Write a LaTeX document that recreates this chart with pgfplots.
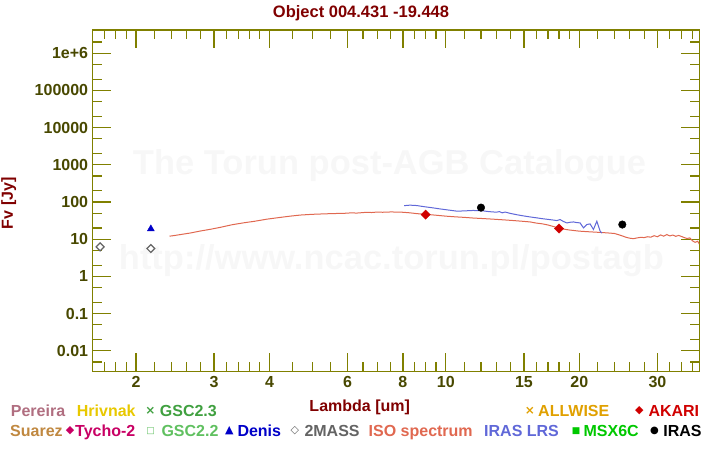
\documentclass[border=0pt]{standalone}
\usepackage{pgfplots}
\pgfplotsset{compat=1.18}
\usepackage{fontspec}
\setmainfont{Liberation Sans}
\newfontfamily\sym{DejaVu Sans}
\definecolor{axc}{RGB}{128,128,0}
\definecolor{tickc}{RGB}{72,72,0}
\definecolor{titc}{RGB}{128,0,0}
\definecolor{pereira}{RGB}{176,110,128}
\definecolor{hrivnak}{RGB}{232,200,0}
\definecolor{gsc23}{RGB}{64,160,64}
\definecolor{suarez}{RGB}{192,136,64}
\definecolor{tycho}{RGB}{200,0,100}
\definecolor{gsc22}{RGB}{96,192,96}
\definecolor{denis}{RGB}{0,0,200}
\definecolor{twomass}{RGB}{100,100,100}
\definecolor{iso}{RGB}{224,104,80}
\definecolor{lrs}{RGB}{96,104,216}
\definecolor{msx}{RGB}{0,200,0}
\definecolor{allwise}{RGB}{224,160,0}
\definecolor{akari}{RGB}{208,0,0}
\definecolor{wm}{RGB}{247,247,247}
\newcommand{\lf}{\fontsize{16bp}{18bp}\selectfont\bfseries}
\begin{document}
\begin{tikzpicture}[x=1bp,y=1bp]
\path[use as bounding box] (0,0) rectangle (720,450);
% watermark
\node[anchor=base, inner sep=0pt, text=wm, font=\fontsize{34.5bp}{36bp}\selectfont\bfseries] at (389.5,275) {The Torun post-AGB Catalogue};
\node[anchor=base, inner sep=0pt, text=wm, font=\fontsize{34.5bp}{36bp}\selectfont\bfseries] at (391.4,180) {http://www.ncac.torun.pl/postagb};
\begin{axis}[
  at={(92.7bp,78.7bp)}, anchor=south west,
  scale only axis, width=606.6bp, height=341.3bp,
  xmode=log, ymode=log,
  xmin=1.597, xmax=37.3, ymin=0.0028, ymax=4.2e6,
  axis line style={axc, line width=1.2bp},
  tick style={axc, line width=1.2bp},
  major tick length=18bp, minor tick length=9bp,
  tick align=inside,
  xtick pos=both, ytick pos=both,
  xticklabel pos=lower, yticklabel pos=left,
  xtick={2,3,4,6,8,10,15,20,30},
  xticklabels={2,3,4,6,8,10,15,20,30},
  minor xtick={1.7,1.8,1.9,2.2,2.4,2.6,2.8,3.2,3.4,3.6,3.8,4.5,5,5.5,6.5,7,7.5,8.5,9,9.5,11,12,13,14,16,17,18,19,22,24,26,28,32,34,36},
  ytick={0.01,0.1,1,10,100,1000,10000,100000,1000000},
  yticklabels={0.01,0.1,1,10,100,1000,10000,100000,1e+6},
  minor ytick={0.005,0.02,0.05,0.2,0.5,2,5,20,50,200,500,2000,5000,20000,50000,200000,500000,2000000},
  ticklabel style={font=\lf, text=tickc, inner sep=0pt},
  xticklabel style={anchor=north, yshift=-5.3bp},
  yticklabel style={anchor=east, xshift=-4.4bp},
  /pgf/number format/assume math mode=true,
]
% ISO spectrum
\addplot[iso, line width=1bp, mark=none] table {
2.38 12.0
2.45 12.6
2.55 13.6
2.65 14.6
2.79 16.5
2.95 18.5
3.10 20.8
3.30 24.5
3.50 27.5
3.70 30.2
3.95 34.5
4.20 38.0
4.45 41.5
4.70 44.5
5.00 46.5
5.30 47.8
5.60 48.8
5.90 49.5
6.10 50.8
6.30 50.3
6.60 52.5
6.80 52.0
7.00 53.5
7.20 52.8
7.50 53.8
7.80 53.5
8.00 52.8
8.30 51.0
8.60 48.5
9.00 46.5
9.50 44.0
10.0 41.5
10.5 39.8
11.0 38.5
11.5 37.0
12.0 36.0
12.5 35.0
13.0 34.0
13.5 33.0
14.0 32.0
14.5 31.0
15.0 30.0
15.5 29.0
16.0 27.0
16.5 25.8
17.0 24.0
17.5 21.8
18.0 19.8
18.5 18.5
19.0 17.6
19.5 17.0
20.0 16.4
21.0 15.8
22.0 15.3
23.0 14.8
24.0 14.2
24.5 13.2
25.0 12.2
25.5 11.2
26.0 10.6
26.5 10.3
27.0 10.8
27.5 11.2
28.0 11.0
28.5 11.6
29.0 11.3
29.5 12.4
30.0 11.6
30.5 13.0
31.0 12.0
31.5 13.3
32.0 12.2
32.5 12.9
33.0 11.9
33.5 12.6
34.0 11.8
34.5 11.0
35.0 10.4
35.5 10.8
36.0 9.0
36.5 8.2
37.0 8.8
37.3 7.3
};
% IRAS LRS
\addplot[lrs, line width=1bp, mark=none] table {
8.05 79.6
8.3 82
8.6 80
8.9 75
9.3 70
9.7 65
10.2 60
10.6 56.5
11.0 57.5
11.5 59
12.0 58.5
12.5 55
13.0 53
13.2 55
13.4 51
13.6 53.5
14.0 49
14.5 45
15.0 42
15.5 39.5
16.0 37.5
16.5 35.5
17.0 34
17.5 32.5
17.8 31.6
18.1 33.6
18.4 30
18.74 27.3
19.1 28.5
19.4 29.0
19.7 28
20.08 27.3
20.43 20.1
20.79 24.7
21.15 25.7
21.52 18.2
21.9 30.3
22.28 16.4
22.48 14.7
};
% 2MASS
\addplot[only marks, mark=square, mark size=2.8bp, mark options={rotate=45, draw=twomass, line width=1.2bp}] table {
1.66 6.2
2.16 5.6
};
% Denis
\addplot[only marks, mark=triangle*, mark size=4bp, mark options={fill=denis, draw=denis}] table {
2.16 18.9
};
% AKARI
\addplot[only marks, mark=square*, mark size=3.3bp, mark options={rotate=45, fill=akari, draw=akari}] table {
9.0 45.7
18.0 19.3
};
% IRAS
\addplot[only marks, mark=*, mark size=3.8bp, mark options={fill=black, draw=black}] table {
12.0 70.4
25.0 24.7
};
\end{axis}
% title and labels
\node[anchor=base, inner sep=0pt, text=titc, font=\fontsize{16.5bp}{18bp}\selectfont\bfseries] at (361,432.5) {Object 004.431 -19.448};
\node[anchor=base, inner sep=0pt, text=titc, font=\lf] at (359.7,38.5) {Lambda [um]};
\node[anchor=center, inner sep=0pt, text=titc, font=\lf, rotate=90] at (8.8,246.7) {Fv [Jy]};
% legend row 1
\node[anchor=base west, inner sep=0pt, text=pereira, font=\lf] at (10.7,33.5) {Pereira};
\node[anchor=base west, inner sep=0pt, text=hrivnak, font=\lf] at (76.7,33.5) {Hrivnak};
\node[anchor=center, inner sep=0pt, text=gsc23, font=\fontsize{12bp}{14bp}\selectfont\sym\bfseries] at (150.5,39.3) {×};
\node[anchor=base west, inner sep=0pt, text=gsc23, font=\lf] at (159.7,33.5) {GSC2.3};
\node[anchor=center, inner sep=0pt, text=allwise, font=\fontsize{12bp}{14bp}\selectfont\sym\bfseries] at (529.9,39.3) {×};
\node[anchor=base west, inner sep=0pt, text=allwise, font=\lf] at (538,33.5) {ALLWISE};
\node[anchor=center, inner sep=0pt, text=akari, font=\fontsize{11bp}{14bp}\selectfont\sym] at (639.3,39.3) {◆};
\node[anchor=base west, inner sep=0pt, text=akari, font=\lf] at (648.3,33.5) {AKARI};
% legend row 2
\node[anchor=base west, inner sep=0pt, text=suarez, font=\lf] at (10,13.5) {Suarez};
\node[anchor=center, inner sep=0pt, text=tycho, font=\fontsize{11bp}{14bp}\selectfont\sym] at (70,19.3) {◆};
\node[anchor=base west, inner sep=0pt, text=tycho, font=\lf] at (75,13.5) {Tycho-2};
\node[anchor=center, inner sep=0pt, text=gsc22, font=\fontsize{9bp}{14bp}\selectfont\sym\bfseries] at (150.7,19.3) {□};
\node[anchor=base west, inner sep=0pt, text=gsc22, font=\lf] at (161.3,13.5) {GSC2.2};
\node[anchor=center, inner sep=0pt, text=denis, font=\fontsize{11bp}{14bp}\selectfont\sym] at (229.3,19.3) {▲};
\node[anchor=base west, inner sep=0pt, text=denis, font=\lf] at (237.3,13.5) {Denis};
\node[anchor=center, inner sep=0pt, text=twomass, font=\fontsize{11bp}{14bp}\selectfont\sym\bfseries] at (294.9,19.3) {◇};
\node[anchor=base west, inner sep=0pt, text=twomass, font=\lf] at (304.3,13.5) {2MASS};
\node[anchor=base west, inner sep=0pt, text=iso, font=\lf] at (368.5,13.5) {ISO spectrum};
\node[anchor=base west, inner sep=0pt, text=lrs, font=\lf] at (484,13.5) {IRAS LRS};
\node[anchor=center, inner sep=0pt, text=msx, font=\fontsize{9bp}{14bp}\selectfont\sym] at (576,19.3) {■};
\node[anchor=base west, inner sep=0pt, text=msx, font=\lf] at (583.4,13.5) {MSX6C};
\node[anchor=center, inner sep=0pt, text=black, font=\fontsize{10bp}{14bp}\selectfont\sym] at (654.6,19.3) {●};
\node[anchor=base west, inner sep=0pt, text=black, font=\lf] at (663.2,13.5) {IRAS};
\end{tikzpicture}
\end{document}
